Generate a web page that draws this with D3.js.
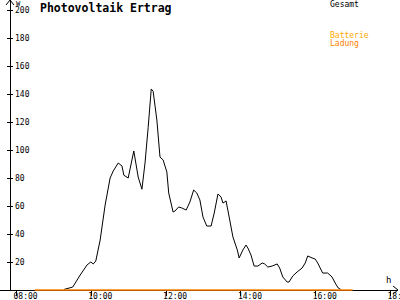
<!DOCTYPE html>
<html lang="de">
<head>
  <meta charset="UTF-8">
  <title>Photovoltaik Ertrag</title>
  <script src="https://cdn.jsdelivr.net/npm/d3@7"></script>
  <style>
    body { margin: 0; background: #fff; }
    svg { display: block; font-family: "DejaVu Sans Mono", monospace; }
  </style>
</head>
<body>
<div id="chart"></div>
<script>
  // Gesamt (W) readings, time of day
  const gesamtTimes = [
    "09:17","09:31","09:43","09:54","10:00","10:04","10:08","10:15","10:23","10:31",
    "10:36","10:44","10:50","10:53","11:00","11:09","11:16","11:22","11:27","11:32",
    "11:37","11:40","11:46","11:51","11:56","12:02","12:05","12:12","12:15","12:21",
    "12:26","12:33","12:39","12:45","12:50","12:55","13:00","13:06","13:13","13:18",
    "13:24","13:29","13:32","13:37","13:42","13:48","13:55","13:58","14:04","14:09",
    "14:12","14:17","14:22","14:28","14:35","14:39","14:44","14:51","14:59","15:03",
    "15:08","15:15","15:18","15:24","15:31","15:39","15:44","15:48","15:55","16:00",
    "16:04","16:12","16:20","16:27","16:32","16:37","16:41"
  ];
  const gesamtValues = [
    0.4, 2.1, 10.7, 17.9, 20, 18.6, 20.7, 35.7, 60.7, 80,
    85, 90.7, 88.6, 82, 80, 99.3, 80.7, 72, 90.7, 116,
    143.6, 142, 121.4, 95, 92.9, 84.3, 69.3, 55.7, 56.4, 59.3,
    58.6, 57.1, 62.9, 71.4, 69.3, 64.3, 52.1, 45.7, 45.7, 55,
    68.6, 66.4, 62.1, 63.6, 52.1, 37.9, 28.6, 22.9, 28.6, 32.1,
    30, 25, 17.1, 17.1, 19.3, 18.6, 16.4, 17.1, 18.6, 15.7,
    9.3, 5.7, 5.7, 10, 12.9, 15.7, 19.3, 24.3, 22.9, 22.1,
    19.3, 12.1, 12.1, 9.3, 5, 1.4, 0.4
  ];

  // Batterie Ladung
  const ladungTimes = ["08:30", "17:00"];
  const ladungValues = [0, 0];

  const yTicks = [20, 40, 60, 80, 100, 120, 140, 160, 180, 200];
  const xTicks = ["08:00", "10:00", "12:00", "14:00", "16:00", "18:00"];

  const width = 400;
  const height = 300;

  const parse = d3.timeParse("%H:%M");

  const x = d3.scaleTime()
      .domain([parse("08:00"), parse("18:00")])
      .range([16, 390]);

  const y = d3.scaleLinear()
      .domain([0, 200])
      .range([290, 10]);

  const svg = d3.select("#chart")
      .append("svg")
      .attr("width", width)
      .attr("height", height);

  // x-axis
  const xAxis = svg.append("g")
      .attr("transform", `translate(0,${y(0)})`)
      .call(d3.axisBottom(x)
        .tickValues(xTicks.map(parse))
        .tickFormat(d3.timeFormat("%H:%M"))
        .tickSize(6)
        .tickSizeOuter(0));
  xAxis.select(".domain").remove();
  xAxis.selectAll("line").attr("stroke", "#000").attr("shape-rendering", "crispEdges");
  xAxis.selectAll("text")
      .attr("y", 9)
      .attr("dy", 0)
      .attr("dx", -3)
      .attr("text-anchor", "start")
      .style("font-family", "'DejaVu Sans Mono', monospace")
      .style("font-size", "8px")
      .attr("fill", "#000");

  svg.append("line")
      .attr("x1", 0).attr("x2", 398)
      .attr("y1", y(0)).attr("y2", y(0))
      .attr("stroke", "#000")
      .attr("shape-rendering", "crispEdges");
  svg.append("path")
      .attr("d", `M393,${y(0) - 4}L398,${y(0)}L393,${y(0) + 4}`)
      .attr("fill", "none")
      .attr("stroke", "#000");
  svg.append("text")
      .attr("x", 386).attr("y", 283)
      .style("font-size", "9px")
      .text("h");

  // y-axis
  const yAxis = svg.append("g")
      .attr("transform", "translate(10,0)")
      .call(d3.axisLeft(y).tickValues(yTicks).tickSizeOuter(0));
  yAxis.select(".domain").remove();
  yAxis.selectAll("line")
      .attr("x1", -3).attr("x2", 3)
      .attr("stroke", "#000")
      .attr("shape-rendering", "crispEdges");
  yAxis.selectAll("text")
      .attr("x", 5)
      .attr("text-anchor", "start")
      .style("font-family", "'DejaVu Sans Mono', monospace")
      .style("font-size", "8px")
      .attr("fill", "#000");

  svg.append("line")
      .attr("x1", 10).attr("x2", 10)
      .attr("y1", 0).attr("y2", y(0))
      .attr("stroke", "#000")
      .attr("shape-rendering", "crispEdges");
  svg.append("path")
      .attr("d", "M6,5L10,0L14,5")
      .attr("fill", "none")
      .attr("stroke", "#000");
  svg.append("text")
      .attr("x", 16).attr("y", 6)
      .style("font-size", "7px")
      .text("W");

  // lines
  const line = d3.line()
      .x(d => x(d.t))
      .y(d => y(d.v));

  const gesamt = gesamtTimes.map((t, i) => ({ t: parse(t), v: gesamtValues[i] }));
  const ladung = ladungTimes.map((t, i) => ({ t: parse(t), v: ladungValues[i] }));

  svg.append("path")
      .datum(gesamt)
      .attr("fill", "none")
      .attr("stroke", "#000")
      .attr("stroke-width", 1)
      .attr("d", line);

  svg.append("path")
      .datum(ladung)
      .attr("fill", "none")
      .attr("stroke", "#ff8000")
      .attr("stroke-width", 1.5)
      .attr("d", line);

  // title + legend
  svg.append("text")
      .attr("x", 40).attr("y", 12)
      .style("font-size", "11.5px")
      .style("font-weight", "bold")
      .text("Photovoltaik Ertrag");

  svg.append("text")
      .attr("x", 330).attr("y", 7)
      .style("font-size", "8px")
      .attr("fill", "#000")
      .text("Gesamt");
  svg.append("text")
      .attr("x", 330).attr("y", 38)
      .style("font-size", "8px")
      .attr("fill", "#ffaa00")
      .text("Batterie");
  svg.append("text")
      .attr("x", 330).attr("y", 46)
      .style("font-size", "8px")
      .attr("fill", "#ff8000")
      .text("Ladung");
</script>
</body>
</html>
